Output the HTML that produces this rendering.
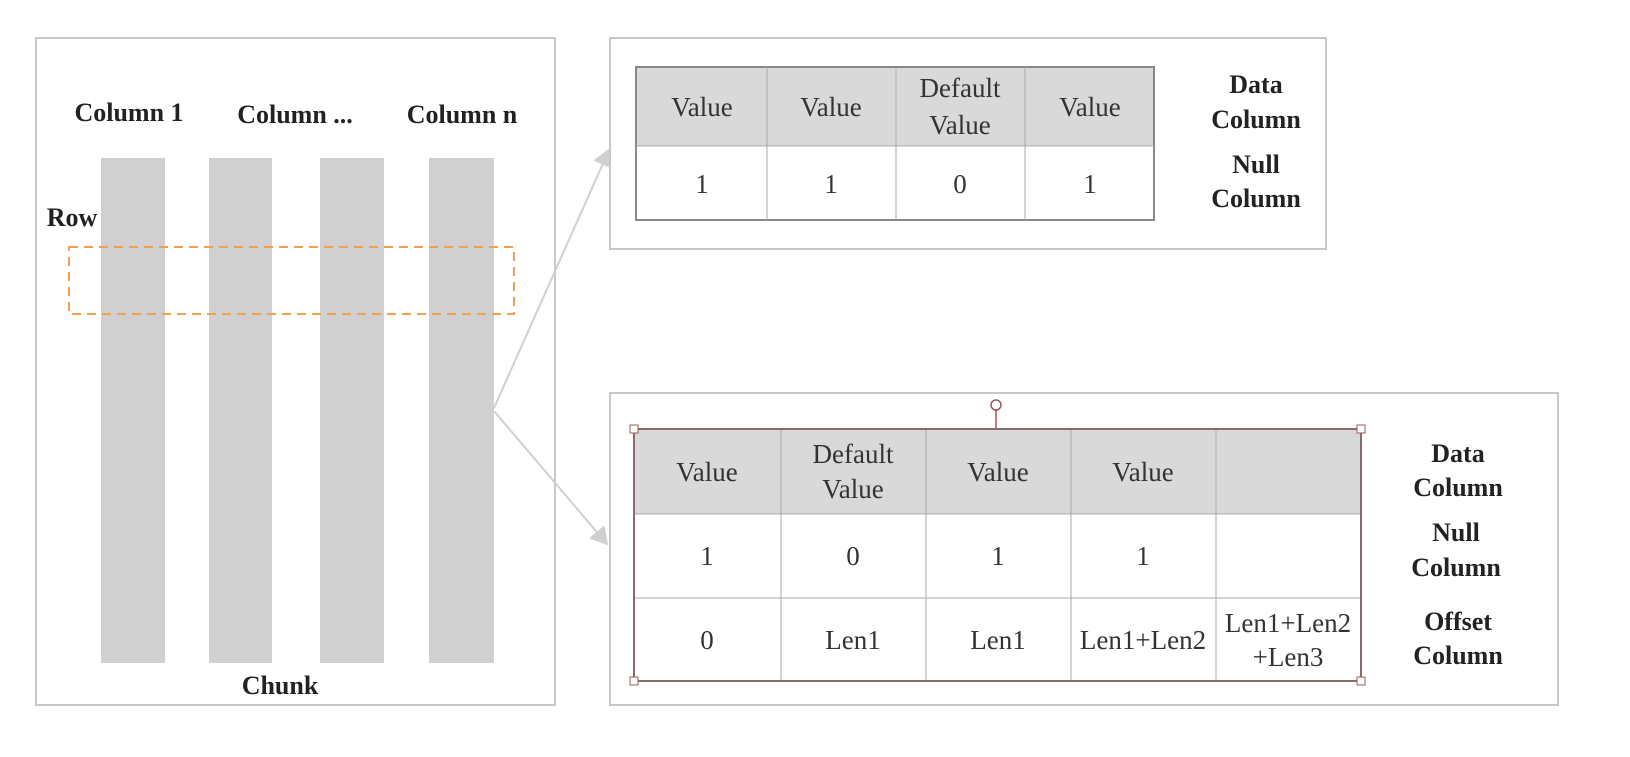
<!DOCTYPE html>
<html><head><meta charset="utf-8"><style>
body{margin:0;background:#fff;}
svg text{font-family:"Liberation Serif",serif;}
.c{font-size:27px;fill:#333;text-anchor:middle;}
.b{font-size:26px;font-weight:bold;fill:#222;text-anchor:middle;}
</style></head><body>
<svg width="1630" height="752" viewBox="0 0 1630 752">
<defs><marker id="ah" markerWidth="10" markerHeight="10" refX="8" refY="5" orient="auto"><path d="M0,0 L9,5 L0,10 z" fill="#d0d0d0"/></marker></defs>
<g>
<rect x="36" y="38" width="519" height="667" fill="#fff" stroke="#c8c8c8" stroke-width="2"/>
<rect x="101" y="158" width="64" height="505" fill="#d0d0d0"/>
<rect x="209" y="158" width="63" height="505" fill="#d0d0d0"/>
<rect x="320" y="158" width="64" height="505" fill="#d0d0d0"/>
<rect x="429" y="158" width="65" height="505" fill="#d0d0d0"/>
<text class="b" x="129" y="121">Column 1</text>
<text class="b" x="295" y="123">Column ...</text>
<text class="b" x="462" y="123">Column n</text>
<text class="b" x="72" y="226">Row</text>
<rect x="69" y="247" width="445" height="67" fill="none" stroke="#f0a050" stroke-width="2" stroke-dasharray="9,6"/>
<text class="b" x="280" y="694">Chunk</text>
</g>
<line x1="494" y1="408" x2="609" y2="150" stroke="#d0d0d0" stroke-width="2" marker-end="url(#ah)"/>
<line x1="494" y1="411" x2="607" y2="544" stroke="#d0d0d0" stroke-width="2" marker-end="url(#ah)"/>
<g>
<rect x="610" y="38" width="716" height="211" fill="#fff" stroke="#c8c8c8" stroke-width="2"/>
<rect x="636" y="67" width="518" height="79" fill="#d9d9d9"/>
<rect x="636" y="67" width="518" height="153" fill="none" stroke="#888" stroke-width="2"/>
<line x1="636" y1="146" x2="1154" y2="146" stroke="#aaa"/>
<line x1="767" y1="67" x2="767" y2="220" stroke="#aaa"/>
<line x1="896" y1="67" x2="896" y2="220" stroke="#aaa"/>
<line x1="1025" y1="67" x2="1025" y2="220" stroke="#aaa"/>
<text class="c" x="702" y="116">Value</text><text class="c" x="831" y="116">Value</text>
<text class="c" x="960" y="97">Default</text><text class="c" x="960" y="134">Value</text>
<text class="c" x="1090" y="116">Value</text>
<text class="c" x="702" y="193">1</text><text class="c" x="831" y="193">1</text><text class="c" x="960" y="193">0</text><text class="c" x="1090" y="193">1</text>
<text class="b" x="1256" y="93">Data</text><text class="b" x="1256" y="128">Column</text>
<text class="b" x="1256" y="173">Null</text><text class="b" x="1256" y="207">Column</text>
</g>
<g>
<rect x="610" y="393" width="948" height="312" fill="#fff" stroke="#c8c8c8" stroke-width="2"/>
<rect x="634" y="429" width="727" height="85" fill="#d9d9d9"/>
<line x1="634" y1="514" x2="1361" y2="514" stroke="#aaa"/>
<line x1="634" y1="598" x2="1361" y2="598" stroke="#aaa"/>
<line x1="781" y1="429" x2="781" y2="681" stroke="#aaa"/>
<line x1="926" y1="429" x2="926" y2="681" stroke="#aaa"/>
<line x1="1071" y1="429" x2="1071" y2="681" stroke="#aaa"/>
<line x1="1216" y1="429" x2="1216" y2="681" stroke="#aaa"/>
<rect x="634" y="429" width="727" height="252" fill="none" stroke="#8a6a6a" stroke-width="2"/>
<line x1="996" y1="410" x2="996" y2="429" stroke="#9a5a5a" stroke-width="1.5"/>
<circle cx="996" cy="405" r="5" fill="#fff" stroke="#9a5a5a" stroke-width="1.5"/>
<rect x="630" y="425" width="8" height="8" fill="#fff" stroke="#9a5a5a"/>
<rect x="1357" y="425" width="8" height="8" fill="#fff" stroke="#9a5a5a"/>
<rect x="630" y="677" width="8" height="8" fill="#fff" stroke="#9a5a5a"/>
<rect x="1357" y="677" width="8" height="8" fill="#fff" stroke="#9a5a5a"/>
<text class="c" x="707" y="481">Value</text>
<text class="c" x="853" y="463">Default</text><text class="c" x="853" y="498">Value</text>
<text class="c" x="998" y="481">Value</text><text class="c" x="1143" y="481">Value</text>
<text class="c" x="707" y="565">1</text><text class="c" x="853" y="565">0</text><text class="c" x="998" y="565">1</text><text class="c" x="1143" y="565">1</text>
<text class="c" x="707" y="649">0</text><text class="c" x="853" y="649">Len1</text><text class="c" x="998" y="649">Len1</text><text class="c" x="1143" y="649">Len1+Len2</text>
<text class="c" x="1288" y="632">Len1+Len2</text><text class="c" x="1288" y="666">+Len3</text>
<text class="b" x="1458" y="462">Data</text><text class="b" x="1458" y="496">Column</text>
<text class="b" x="1456" y="541">Null</text><text class="b" x="1456" y="576">Column</text>
<text class="b" x="1458" y="630">Offset</text><text class="b" x="1458" y="664">Column</text>
</g>
</svg>
</body></html>
